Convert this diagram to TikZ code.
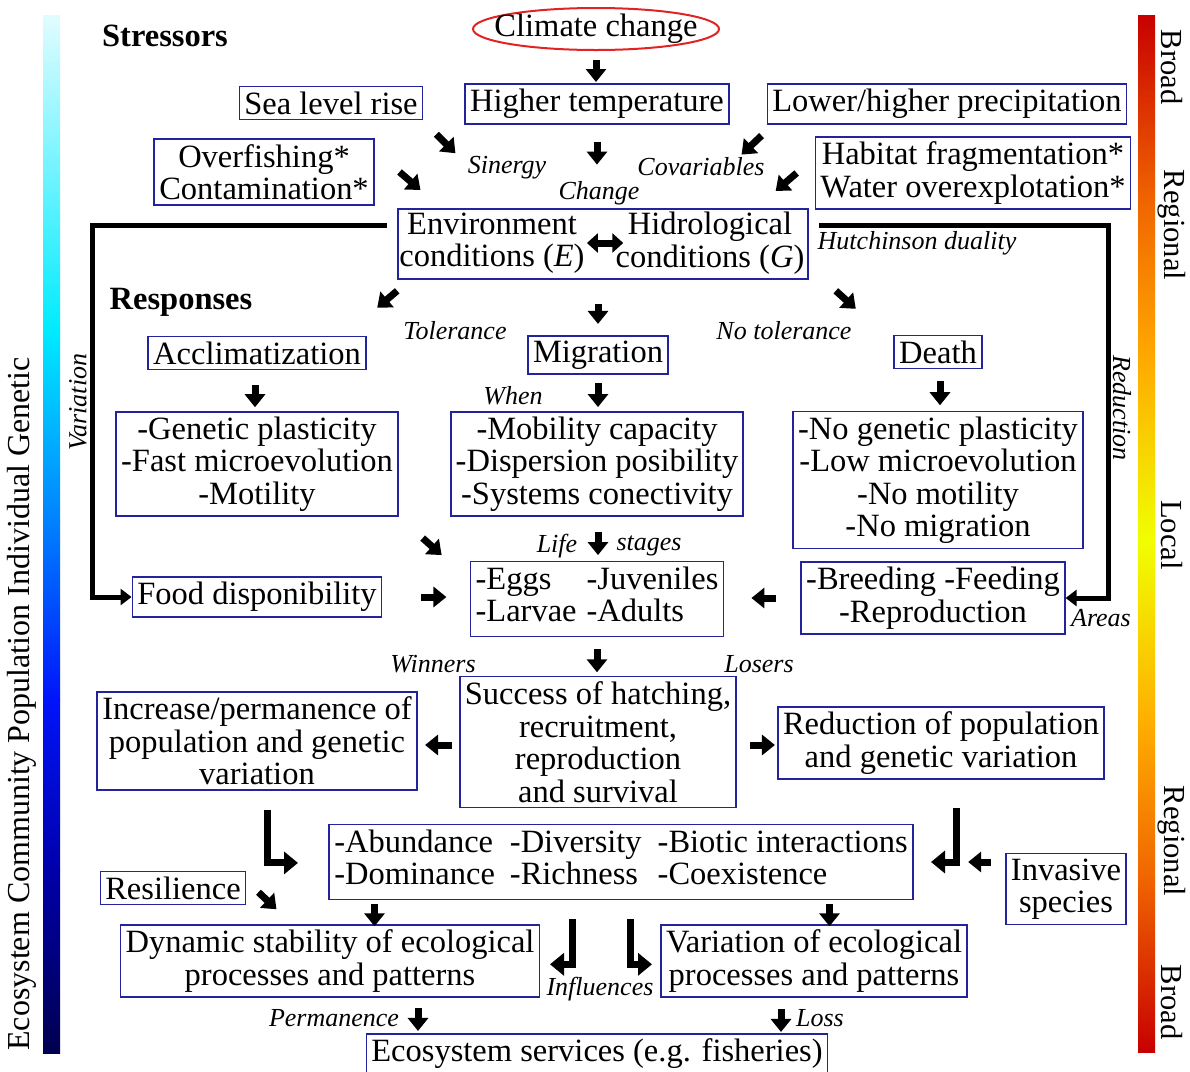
\documentclass[tikz,border=0pt]{standalone}
\usepackage{fontspec}
\setmainfont{Liberation Serif}
\usetikzlibrary{arrows.meta,shapes.geometric}
\definecolor{boxblue}{RGB}{35,35,155}
\definecolor{ccred}{RGB}{225,35,35}
% left bar (genetic -> ecosystem)
\definecolor{gb0}{RGB}{225,252,255}
\definecolor{gb1}{RGB}{0,235,255}
\definecolor{gb2}{RGB}{0,130,255}
\definecolor{gb3}{RGB}{0,20,250}
\definecolor{gb4}{RGB}{0,0,170}
\definecolor{gb5}{RGB}{0,0,80}
% right bar (broad -> local -> broad)
\definecolor{sb0}{RGB}{200,0,0}
\definecolor{sb1}{RGB}{240,100,0}
\definecolor{sb2}{RGB}{255,170,0}
\definecolor{sb3}{RGB}{240,255,0}
\definecolor{sb4}{RGB}{255,175,0}
\definecolor{sb5}{RGB}{240,100,0}
\definecolor{sb6}{RGB}{200,0,0}
\newcommand\mainsize{\fontsize{16.25pt}{16.25pt}\selectfont}
\newcommand\lblsize{\fontsize{13pt}{13pt}\selectfont\itshape}

\begin{document}
\begin{tikzpicture}[x=0.5pt, y=-0.5pt,
  box/.style={draw=boxblue, line width=0.8pt, inner xsep=2.5pt, inner ysep=2.5pt, align=center, font=\mainsize},
  plain/.style={font=\mainsize, inner sep=0pt, align=center},
  head/.style={font=\mainsize\bfseries, inner sep=0pt},
  lbl/.style={font=\lblsize, inner sep=0pt},
  scl/.style={font=\fontsize{15.3pt}{15.3pt}\selectfont, rotate=-90, inner sep=0pt},
  fat/.style={line width=3.5pt, -{Triangle[width=10pt,length=6.5pt]}},
  dfat/.style={line width=3.5pt, {Triangle[width=9.5pt,length=5.5pt]}-{Triangle[width=9.5pt,length=5.5pt]}},
  bigline/.style={line width=2.5pt, -{Triangle[width=8pt,length=5.5pt]}},
  elbow/.style={line width=3.5pt, -{Triangle[width=11pt,length=7pt]}}]
\useasboundingbox (0,0) rectangle (1190,1072);
% scale bars
\foreach \ya/\yb/\ca/\cb in {15/330/gb0/gb1, 330/520/gb1/gb2, 520/700/gb2/gb3, 700/870/gb3/gb4, 870/1053/gb4/gb5}
  \shade[top color=\ca, bottom color=\cb] (43,\ya) rectangle (60,\yb);
\foreach \ya/\yb/\ca/\cb in {15/200/sb0/sb1, 200/360/sb1/sb2, 360/540/sb2/sb3, 540/720/sb3/sb4, 720/880/sb4/sb5, 880/1052/sb5/sb6}
  \shade[top color=\ca, bottom color=\cb] (1138,\ya) rectangle (1155,\yb);
\node[font=\fontsize{16pt}{16pt}\selectfont, rotate=90, inner sep=0pt] (levels) at (22,704) {Ecosystem Community Population Individual Genetic};
\foreach \y/\t [count=\i] in {67/Broad, 225/Regional, 535/Local, 841/Regional, 1002/Broad}
  \node[scl] (scale\i) at (1172,\y) {\t};

% stressors
\node[head] (stress) at (165,36) {Stressors};
\node[draw=ccred, line width=1pt, ellipse, minimum width=123pt, minimum height=21pt, inner sep=0pt, font=\mainsize] (clim) at (596,29) {\makebox[0pt]{Climate change}};
\node[box] (sea) at (331,103) {Sea level rise};
\node[box] (temp) at (597,104) {Higher temperature};
\node[box] (prec) at (947,104) {Lower/higher precipitation};
\node[box] (overf) at (264,172) {Overfishing*\\Contamination*};
\node[box] (habit) at (973,173) {Habitat fragmentation*\\Water overexplotation*};
\node[lbl] (sin) at (507,168) {Sinergy};
\node[lbl] (chg) at (599,193) {Change};
\node[lbl] (cov) at (701,167) {Covariables};
\draw[fat] (clim.south) ++(0,9) -- ++(0,22);
\draw[fat] (temp.south) ++(0,17) -- ++(0,23);
\draw[fat] (sea.south east) ++(13,14) -- ++(19,19);
\draw[fat] (prec.south west) ++(-5,11) -- ++(-20,19);
\draw[fat] (overf.east) ++(25,0) -- ++(21,18);
\draw[fat] (habit.west) ++(-18,0) -- ++(-21,18);

% conditions E and G
\node[box, minimum width=205pt, minimum height=35pt] (cond) at (603,244) {};
\node[plain] (env) at (492,243) {Environment\\conditions (\textit{E})};
\node[plain] (hid) at (710,243) {Hidrological\\conditions (\textit{G})};
\draw[dfat] ([xshift=1pt]env.east) -- ([xshift=4pt]hid.west);
\node[lbl] (hut) at (917,243) {Hutchinson duality};

% responses
\node[head] (resp) at (181,302) {Responses};
\node[lbl] (tol) at (455,331) {Tolerance};
\node[lbl] (notol) at (784,331) {No tolerance};
\node[box] (accl) at (257,353) {Acclimatization};
\node[box] (mig) at (598,355) {Migration};
\node[box] (death) at (938,352) {Death};
\draw[fat] (cond.south west) ++(0,11) -- ++(-20,17);
\draw[fat] (mig.north) ++(0,-31) -- ++(0,20);
\draw[fat] (cond.south east) ++(27,11) -- ++(20,18);
\node[lbl] (when) at (513,396) {When};
\node[box] (plast) at (257,464) {-Genetic plasticity\\-Fast microevolution\\-Motility};
\node[box] (mob) at (597,464) {-Mobility capacity\\-Dispersion posibility\\-Systems conectivity};
\node[box] (nogen) at (938,480) {-No genetic plasticity\\-Low microevolution\\-No motility\\-No migration};
\draw[fat] (accl.south) ++(-2,15) -- ++(0,22);
\draw[fat] (mig.south) ++(0,8) -- ++(0,24);
\draw[fat] (death.south) ++(2,12) -- ++(0,24);

% life stages
\node[lbl] (life) at (557,546) {Life};
\node[lbl] (stages) at (649,546) {stages};
\node[box] (food) at (257,597) {Food disponibility};
\node[box] (eggs) at (597,599) {\begin{tabular}{@{}l@{\hspace{5pt}}l@{}}-Eggs & -Juveniles\\-Larvae & -Adults\end{tabular}};
\node[box] (breed) at (933,598) {-Breeding -Feeding\\-Reproduction};
\node[lbl] (areas) at (1101,618) {Areas};
\draw[fat] (plast.south east) ++(24,21) -- ++(19,17);
\draw[fat] (mob.south) ++(1,15) -- ++(0,23);
\draw[fat] (food.east) ++(39,0) -- ++(25,0);
\draw[fat] (breed.west) ++(-24,0) -- ++(-25,0);
% Hutchinson duality lines
\draw[bigline] (cond.north west) ++(-10,17) -- ++(-295,0) |- (food.west);
\draw[bigline] (cond.north east) ++(10,17) -- ++(290,0) |- (breed.east);
\node[lbl, rotate=90] (varl) at (78,402) {Variation};
\node[lbl, rotate=-90] (redl) at (1122,408) {Reduction};

% winners and losers
\node[lbl] (win) at (433,664) {Winners};
\node[lbl] (los) at (759,664) {Losers};
\node[box] (succ) at (598,742) {Success of hatching,\\recruitment,\\reproduction\\and survival};
\node[box] (incr) at (257,741) {Increase/permanence of\\population and genetic\\variation};
\node[box] (redu) at (941,743) {Reduction of population\\and genetic variation};
\draw[fat] (eggs.south) ++(0,12) -- ++(0,23);
\draw[fat] (succ.west) ++(-7,3) -- ++(-27,0);
\draw[fat] (succ.east) ++(13,3) -- ++(25,0);

% community level
\node[box] (abund) at (621,862) {\begin{tabular}{@{}l@{\hspace{7.5pt}}l@{\hspace{8pt}}l@{}}-Abundance & -Diversity & -Biotic interactions\\-Dominance & -Richness & -Coexistence\end{tabular}};
\node[box] (inva) at (1066,889) {Invasive\\species};
\node[box] (resil) at (173,888) {Resilience};
\draw[elbow] (incr.south) ++(10,19) -- ++(0,53) -- ++(31,0);
\draw[elbow] (redu.south) ++(15,28) -- ++(0,54) -- ++(-25,0);
\draw[fat] (inva.west) ++(-14,-27) -- ++(-23,0);
\draw[fat] (resil.south east) ++(12,-13) -- ++(18,17);

% ecosystem level
\node[box] (dyn) at (330,961) {Dynamic stability of ecological\\processes and patterns};
\node[box] (vari) at (814,961) {Variation of ecological\\processes and patterns};
\node[lbl] (infl) at (600,989) {Influences};
\draw[fat] (abund.south west) ++(46,4) -- ++(0,22);
\draw[fat] (abund.south east) ++(-84,4) -- ++(0,22);
\draw[elbow] (abund.south) ++(-49,19) -- ++(0,45) -- ++(-22,0);
\draw[elbow] (abund.south) ++(9,19) -- ++(0,45) -- ++(22,0);
\node[lbl] (perm) at (334,1018) {Permanence};
\node[lbl] (loss) at (820,1018) {Loss};
\node[box] (serv) at (597,1054) {Ecosystem services (e.g. fisheries)};
\draw[fat] (dyn.south) ++(88,10) -- ++(0,23);
\draw[fat] (vari.south) ++(-33,11) -- ++(0,23);
\end{tikzpicture}
\end{document}
